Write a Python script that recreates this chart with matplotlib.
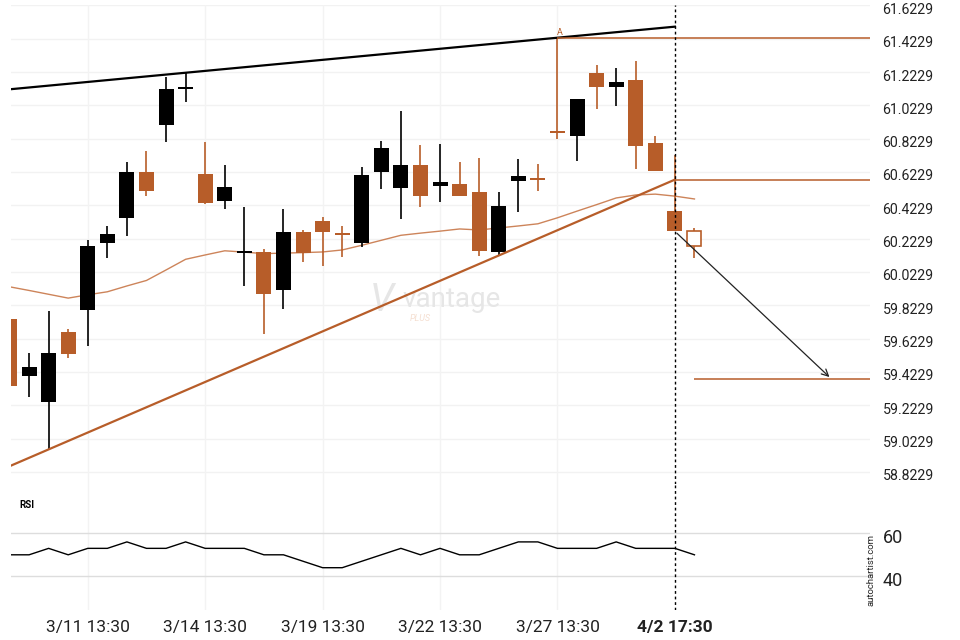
import numpy as np
import matplotlib
matplotlib.use("Agg")
import matplotlib.pyplot as plt
from matplotlib.transforms import ScaledTranslation

plt.rcParams['font.family'] = ['Roboto', 'DejaVu Sans']

# candle data (index 0..35)
opens = [59.742, 59.401, 59.245, 59.664, 59.792, 60.195, 60.345, 60.624, 60.904, 61.121,
         60.613, 60.447, 60.135, 60.145, 59.912, 60.265, 60.331, 60.259, 60.195, 60.621,
         60.525, 60.662, 60.537, 60.553, 60.505, 60.140, 60.567, 60.588, 60.870, 60.838,
         61.214, 61.132, 61.172, 60.794, 60.391, 60.269]
closes = [59.341, 59.454, 59.538, 59.533, 60.181, 60.253, 60.624, 60.507, 61.118, 61.127,
          60.435, 60.535, 60.139, 59.888, 60.265, 60.134, 60.261, 60.243, 60.607, 60.764,
          60.662, 60.477, 60.565, 60.481, 60.147, 60.421, 60.601, 60.573, 60.856, 61.058,
          61.132, 61.160, 60.778, 60.631, 60.267, 60.176]
highs = [59.742, 59.536, 59.788, 59.680, 60.213, 60.299, 60.684, 60.750, 61.195, 61.214,
         60.802, 60.662, 60.413, 60.161, 60.401, 60.277, 60.355, 60.297, 60.654, 60.810,
         60.990, 60.786, 60.792, 60.684, 60.708, 60.503, 60.702, 60.672, 61.429, 61.062,
         61.267, 61.249, 61.291, 60.836, 60.723, 60.289]
lows = [59.341, 59.275, 58.961, 59.509, 59.576, 60.104, 60.239, 60.477, 60.802, 61.044,
        60.430, 60.401, 59.936, 59.650, 59.800, 60.080, 60.056, 60.113, 60.175, 60.522,
        60.341, 60.413, 60.443, 60.477, 60.116, 60.125, 60.383, 60.509, 60.822, 60.687,
        61.002, 61.018, 60.639, 60.631, 60.267, 60.109]

ma = [59.934, 59.912, 59.889, 59.866, 59.886, 59.904, 59.939, 59.972, 60.035, 60.099,
      60.125, 60.150, 60.142, 60.133, 60.136, 60.139, 60.143, 60.155, 60.183, 60.213,
      60.243, 60.256, 60.268, 60.281, 60.275, 60.287, 60.299, 60.312, 60.348, 60.388,
      60.427, 60.467, 60.485, 60.490, 60.478, 60.461]

rsi = [50, 50, 53, 50, 53, 53, 56, 53, 53, 56, 53, 53, 53, 50, 50, 47, 44, 44, 47, 50,
       53, 50, 53, 50, 50, 53, 56, 56, 53, 53, 53, 56, 53, 53, 53, 50]

tick_idx = [4, 10, 16, 22, 28, 34]
tick_labels = ["3/11 13:30", "3/14 13:30", "3/19 13:30", "3/22 13:30", "3/27 13:30", "4/2 17:30"]

upper_x, upper_y = [0, 34], [61.119, 61.495]
lower_x, lower_y = [0, 34], [58.857, 60.577]
level_a, level_a_start = 61.429, 28
level_break, level_break_start = 60.577, 34
target, target_start = 59.381, 35
arrow_from = (34, 60.267)
arrow_to = (42, 59.381)
price_ticks = np.arange(58.8229, 61.63, 0.2)

ORANGE = '#b75d29'
xlim = (0.077, 43.97)

fig = plt.figure(figsize=(9.6, 6.4), dpi=100)
ax = fig.add_axes([11 / 960, 1 - 484 / 640, 859 / 960, 479 / 640])
ax2 = fig.add_axes([11 / 960, 1 - 610 / 640, 859 / 960, 126 / 640])

x = np.arange(len(opens))
o = np.array(opens)
c = np.array(closes)
bull = c >= o
body_low = np.minimum(o, c)
body_h = np.maximum(np.abs(c - o), 0.012)
colors = np.where(bull, 'black', ORANGE)

# grid
for t in price_ticks:
    ax.axhline(t, color='#f2f2f2', lw=1, zorder=0)
for t in tick_idx[:-1]:
    ax.axvline(t, color='#f3f3f3', lw=1, zorder=0)
    ax2.axvline(t, color='#f3f3f3', lw=1, zorder=0)

# watermark
ax.text(0.432, 0.383, "V", transform=ax.transAxes, fontsize=28, fontstyle='italic',
        color='#e6e6e6', ha='center', va='center', zorder=1)
ax.text(0.5125, 0.385, "vantage", transform=ax.transAxes, fontsize=20, color='#e6e6e6',
        ha='center', va='center', zorder=1)
ax.text(0.4645, 0.346, "PLUS", transform=ax.transAxes, fontsize=6.5, color='#f5dfd1',
        fontstyle='italic', ha='left', va='center', zorder=1)

# candles
ax.vlines(x[:-1], lows[:-1], highs[:-1], colors=colors[:-1], lw=1.2, zorder=3)
ax.bar(x[:-1], body_h[:-1], bottom=body_low[:-1], width=0.766, color=colors[:-1], zorder=4)
ax.vlines(x[-1], lows[-1], highs[-1], colors=ORANGE, lw=1.2, zorder=3)
ax.bar(x[-1], body_h[-1], bottom=body_low[-1], width=0.72, facecolor='white',
       edgecolor=ORANGE, lw=1.2, zorder=4)

# moving average
ax.plot(x, ma, color='#cd845a', lw=1, zorder=2)

# pattern lines
ax.plot(upper_x, upper_y, color='black', lw=1.6, zorder=5)
ax.plot(lower_x, lower_y, color=ORANGE, lw=1.6, zorder=5)
ax.hlines(level_a, level_a_start, xlim[1], color=ORANGE, lw=1.1, zorder=5)
ax.vlines(level_a_start, highs[level_a_start] - 0.001, level_a, color=ORANGE, lw=1.1, zorder=5)
ax.text(level_a_start + 0.12, level_a + 0.005, "A", color=ORANGE, fontsize=6.5,
        ha='center', va='bottom')
ax.hlines(level_break, level_break_start, xlim[1], color=ORANGE, lw=1.1, zorder=5)
ax.hlines(target, target_start, xlim[1], color=ORANGE, lw=1.1, zorder=5)
ax.annotate("", xy=arrow_to, xytext=arrow_from,
            arrowprops=dict(arrowstyle='->', color='#222222', lw=0.9, mutation_scale=12),
            zorder=6)

ax.axvline(tick_idx[-1], color='black', lw=1, ls=(0, (2, 2)), zorder=6)
ax2.axvline(tick_idx[-1], color='black', lw=1, ls=(0, (2, 2)), zorder=6)

ax.set_xlim(*xlim)
ax.set_ylim(58.7505, 61.625)
ax.set_yticks(price_ticks)
ax.set_yticklabels([f"{t:.4f}" for t in price_ticks])
ax.yaxis.tick_right()
ax.tick_params(axis='y', length=0, pad=9, labelsize=10.2, labelcolor='#222222')
ax.set_xticks([])
for s in ax.spines.values():
    s.set_visible(False)

# RSI panel
ax2.axhline(60, color='#dddddd', lw=1, zorder=0)
ax2.axhline(40, color='#dddddd', lw=1, zorder=0)
ax2.plot(x, rsi, color='black', lw=1, zorder=3)
ax2.set_xlim(*xlim)
ax2.set_ylim(24.33, 82.93)
ax2.set_yticks([40, 60])
ax2.yaxis.tick_right()
ax2.tick_params(axis='y', length=0, pad=9, labelsize=13, labelcolor='#222222')
ax2.set_xticks(tick_idx)
ax2.set_xticklabels(tick_labels)
ax2.tick_params(axis='x', length=0, pad=7, labelsize=12.5, labelcolor='#222222')
ax2.get_xticklabels()[-1].set_fontweight('bold')
for s in ax2.spines.values():
    s.set_visible(False)

# labels sit a few pixels below their gridlines in the original
shift = ScaledTranslation(0, -3 / 100, fig.dpi_scale_trans)
for lab in ax.get_yticklabels() + ax2.get_yticklabels():
    lab.set_transform(lab.get_transform() + shift)

ax2.text(19 / 960, 1 - 505 / 640, "RSI", transform=fig.transFigure, fontsize=7,
         fontweight='bold', ha='left', va='center')
fig.text(871 / 960, 1 - 570 / 640, "autochartist.com", rotation=90, fontsize=6.8,
         ha='center', va='center', color='#222222')

fig.savefig("out.png", dpi=100)
